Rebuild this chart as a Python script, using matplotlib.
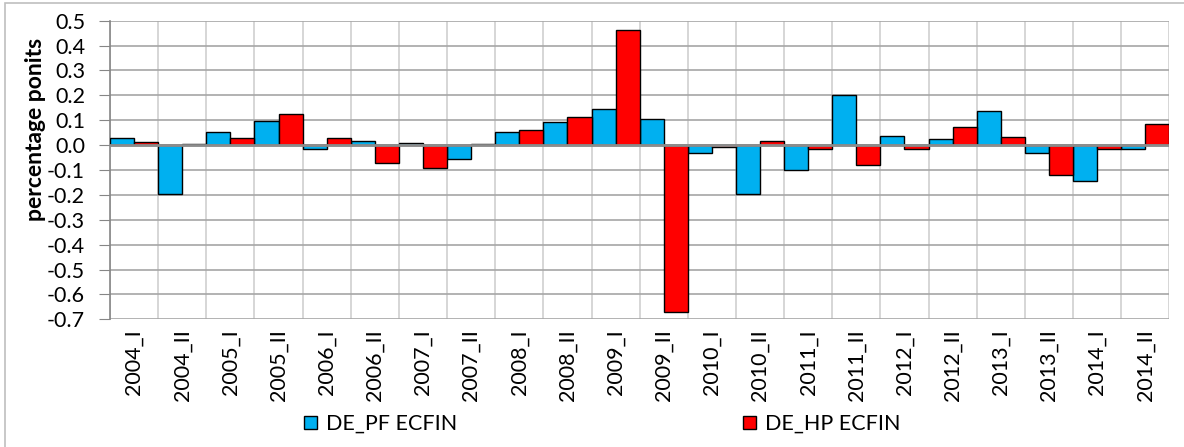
import numpy as np
import matplotlib.pyplot as plt
from matplotlib.patches import Patch, Rectangle

plt.rcParams['font.family'] = ['Lato', 'DejaVu Sans']

# half-year periods
periods = ['2004_I', '2004_II', '2005_I', '2005_II', '2006_I', '2006_II',
           '2007_I', '2007_II', '2008_I', '2008_II', '2009_I', '2009_II',
           '2010_I', '2010_II', '2011_I', '2011_II', '2012_I', '2012_II',
           '2013_I', '2013_II', '2014_I', '2014_II']

# DE_PF ECFIN
pf_ecfin = [0.028, -0.197, 0.051, 0.098, -0.016, 0.017, 0.008, -0.054,
            0.051, 0.093, 0.146, 0.104, -0.030, -0.198, -0.098, 0.202,
            0.036, 0.023, 0.138, -0.030, -0.146, -0.016]

# DE_HP ECFIN
hp_ecfin = [0.012, 0.004, 0.028, 0.127, 0.028, -0.073, -0.093, 0.004,
            0.061, 0.113, 0.462, -0.672, -0.007, 0.016, -0.016, -0.078,
            -0.016, 0.074, 0.032, -0.120, -0.014, 0.085]

yticks = [-0.7, -0.6, -0.5, -0.4, -0.3, -0.2, -0.1, 0.0, 0.1, 0.2, 0.3, 0.4, 0.5]

blue = '#00B0F0'
red = '#FF0000'

fig = plt.figure(figsize=(11.84, 4.47), dpi=100)
ax = fig.add_axes([110 / 1184, 1 - 319.3 / 447, 1059.3 / 1184, 298.6 / 447])

# one category per period, blue bar left of centre, red bar right of it
x = np.arange(len(periods))
ax.bar(x - 0.25, pf_ecfin, width=0.5, color=blue, edgecolor='black', linewidth=1, zorder=3)
ax.bar(x + 0.25, hp_ecfin, width=0.5, color=red, edgecolor='black', linewidth=1, zorder=3)

ax.set_xlim(-0.5, len(periods) - 0.5)
ax.set_ylim(-0.7, 0.5)

ax.set_yticks(yticks)
ax.set_yticklabels(['%.1f' % v for v in yticks], fontsize=15.5)
ax.tick_params(axis='y', length=8, color='#868686', pad=10)

ax.set_xticks(x)
ax.set_xticklabels(periods, rotation=90, fontsize=15.5)
ax.set_xticks(np.arange(-0.5, len(periods), 0.5), minor=True)
ax.tick_params(axis='x', which='both', length=0, pad=7)

ax.grid(axis='y', color='#a6a6a6', linewidth=1.2, zorder=0)
ax.grid(axis='x', which='minor', color='#d0d0d0', linewidth=1.2, zorder=0)
ax.axhline(0, color='#8c8c8c', linewidth=2, zorder=4)

for s in ['top', 'right', 'bottom']:
    ax.spines[s].set_visible(False)
ax.spines['left'].set_color('#868686')
ax.spines['left'].set_linewidth(1.2)

ax.set_ylabel('percentage ponits', fontsize=16.5, fontweight='bold')
ax.yaxis.set_label_coords((46 - 110) / 1059.3, (319.3 - 129.5) / 298.6)

# legend entries sit far apart, like in the original
leg_kw = dict(loc='center left', frameon=False, fontsize=15.5, handlelength=0.6,
              handleheight=0.6, handletextpad=0.4, borderpad=0, borderaxespad=0)
fig.legend([Patch(facecolor=blue, edgecolor='black')], ['DE_PF ECFIN'],
           bbox_to_anchor=(304 / 1184, 1 - 424 / 447), **leg_kw)
fig.legend([Patch(facecolor=red, edgecolor='black')], ['DE_HP ECFIN'],
           bbox_to_anchor=(743 / 1184, 1 - 424 / 447), **leg_kw)

# outer chart border
fig.patches.append(Rectangle((5 / 1184, -0.01), 1.0, 1 - 2.5 / 447 + 0.01,
                             transform=fig.transFigure, fill=False,
                             edgecolor='#bfbfbf', linewidth=1.2))

fig.savefig('out.png', dpi=100)
